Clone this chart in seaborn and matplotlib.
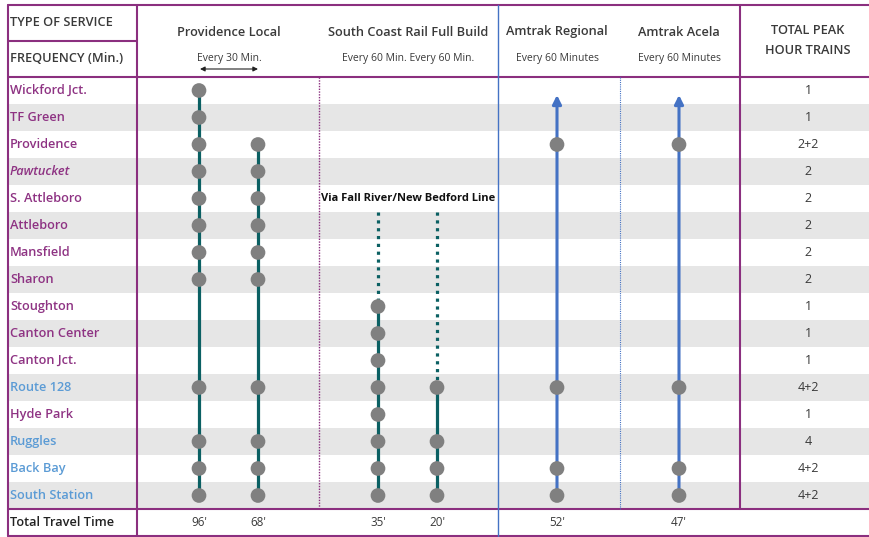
import numpy as np
import pandas as pd
import matplotlib
matplotlib.use("Agg")
import matplotlib.pyplot as plt
import seaborn as sns

# ---------------- data ----------------
stations = ["Wickford Jct.", "TF Green", "Providence", "Pawtucket", "S. Attleboro",
            "Attleboro", "Mansfield", "Sharon", "Stoughton", "Canton Center",
            "Canton Jct.", "Route 128", "Hyde Park", "Ruggles", "Back Bay", "South Station"]
blue_stations = ["Route 128", "Ruggles", "Back Bay", "South Station"]
italic_stations = ["Pawtucket"]
peak_trains = ["1", "1", "2+2", "2", "2", "2", "2", "2", "1", "1", "1",
               "4+2", "1", "4", "4+2", "4+2"]

services = ["Providence Local", "South Coast Rail Full Build", "Amtrak Regional", "Amtrak Acela"]
frequencies = ["Every 30 Min.", "Every 60 Min. Every 60 Min.", "Every 60 Minutes", "Every 60 Minutes"]

lines = ["PVD Local A", "PVD Local B", "SCR A", "SCR B", "Amtrak Regional", "Amtrak Acela"]
travel_times = ["96'", "68'", "35'", "20'", "52'", "47'"]
pvd_a_stops = ["Wickford Jct.", "TF Green", "Providence", "Pawtucket", "S. Attleboro", "Attleboro",
               "Mansfield", "Sharon", "Route 128", "Ruggles", "Back Bay", "South Station"]
pvd_b_stops = ["Providence", "Pawtucket", "S. Attleboro", "Attleboro", "Mansfield", "Sharon",
               "Route 128", "Ruggles", "Back Bay", "South Station"]
scr_a_stops = ["Stoughton", "Canton Center", "Canton Jct.", "Route 128", "Hyde Park",
               "Ruggles", "Back Bay", "South Station"]
scr_b_stops = ["Route 128", "Ruggles", "Back Bay", "South Station"]
amtrak_reg_stops = ["Providence", "Route 128", "Back Bay", "South Station"]
amtrak_acela_stops = ["Providence", "Route 128", "Back Bay", "South Station"]
line_stops = [pvd_a_stops, pvd_b_stops, scr_a_stops, scr_b_stops, amtrak_reg_stops, amtrak_acela_stops]
line_start = ["Wickford Jct.", "Providence", "Stoughton", "Route 128", None, None]  # None -> arrow north
branch_label = "Via Fall River/New Bedford Line"
branch_from = "Attleboro"  # dotted branch feeder starts at this row

# ---------------- layout / style ----------------
W, H = 869, 537
ROW0_PX, ROW_PX = 90.5, 27.0
def Y(px):
    return (px - ROW0_PX) / ROW_PX

line_x = [199, 258, 378, 437, 557, 679]
service_x = [229, 408, 557, 679]
total_x = 808
PURPLE = "#8B2F7F"
PTEXT = "#8E3383"
BLUE_TXT = "#5B9BD5"
TEAL = "#0B6063"
ABLUE = "#4472C4"
DOT = "#808080"
DARK = "#3A3A3A"
GRAY_BAND = "#E6E6E6"
HFS = 9.2   # header / label font size

sns.set_style("white")
plt.rcParams["font.family"] = ["Open Sans", "DejaVu Sans"]

fig = plt.figure(figsize=(W / 100, H / 100), dpi=100)
ax = fig.add_axes([0, 0, 1, 1])
ax.axis("off")

# alternating row bands
for i, st in enumerate(stations):
    if i % 2 == 1:
        ax.add_patch(plt.Rectangle((9, i - 0.5), W - 9, 1.0, color=GRAY_BAND, lw=0, zorder=0))

# grid / borders
bw = 1.5
ax.plot([8, W], [Y(5), Y(5)], color=PURPLE, lw=bw, zorder=2)
ax.plot([8, W], [Y(77), Y(77)], color=PURPLE, lw=bw, zorder=2)
ax.plot([8, W], [Y(509), Y(509)], color=PURPLE, lw=bw, zorder=2)
ax.plot([8, W], [Y(536), Y(536)], color=PURPLE, lw=bw, zorder=2)
ax.plot([8, 137], [Y(41), Y(41)], color=PURPLE, lw=bw, zorder=2)
ax.plot([8, 8], [Y(5), Y(536)], color=PURPLE, lw=bw, zorder=2)
ax.plot([137, 137], [Y(5), Y(536)], color=PURPLE, lw=bw, zorder=2)
ax.plot([740, 740], [Y(5), Y(509)], color=PURPLE, lw=bw, zorder=2)
ax.plot([498, 498], [Y(5), Y(536)], color=ABLUE, lw=1.0, zorder=2)
ax.plot([319, 319], [Y(77), Y(509)], color=PURPLE, lw=1.0, ls=(0, (1, 1)), zorder=2)
ax.plot([620, 620], [Y(77), Y(509)], color=ABLUE, lw=0.8, ls=(0, (1, 1)), zorder=2)

# route lines
row_of = {s: i for i, s in enumerate(stations)}
branch_top = row_of[branch_from] - 0.5
for k, name in enumerate(lines):
    x = line_x[k]
    last = row_of[line_stops[k][-1]]
    if line_start[k] is None:
        ax.annotate("", xy=(x, Y(95)), xytext=(x, last),
                    arrowprops=dict(arrowstyle="-|>", color=ABLUE, lw=2.2,
                                    mutation_scale=13, shrinkA=0, shrinkB=0), zorder=3)
    else:
        first = row_of[line_start[k]]
        seg = pd.DataFrame({"x": [x, x], "row": [first, last]})
        sns.lineplot(data=seg, x="x", y="row", sort=False, estimator=None,
                     color=TEAL, lw=2.3, ax=ax, zorder=3)
        if name.startswith("SCR"):
            dseg = pd.DataFrame({"x": [x, x], "row": [branch_top, first]})
            sns.lineplot(data=dseg, x="x", y="row", sort=False, estimator=None,
                         color=TEAL, lw=2.3, ls=(0, (1.0, 1.45)), ax=ax, zorder=3)

# stop dots
recs = []
for k, name in enumerate(lines):
    for s in line_stops[k]:
        recs.append({"line": name, "x": line_x[k], "row": row_of[s]})
stops_df = pd.DataFrame(recs)
sns.scatterplot(data=stops_df, x="x", y="row", s=112, color=DOT, edgecolor="none",
                legend=False, ax=ax, zorder=5)

# branch label
ax.text(408, row_of["S. Attleboro"], branch_label, ha="center", va="center",
        fontsize=8.0, fontweight="bold", color="#111111", zorder=6)

# header texts
ax.text(10, Y(23), "TYPE OF SERVICE", ha="left", va="center", fontsize=HFS,
        fontweight="semibold", color=DARK)
ax.text(10, Y(59), "FREQUENCY (Min.)", ha="left", va="center", fontsize=HFS,
        fontweight="semibold", color=DARK)
for sx, sv, fq in zip(service_x, services, frequencies):
    ax.text(sx, Y(32), sv, ha="center", va="center", fontsize=HFS,
            fontweight="semibold", color=DARK)
    ax.text(sx, Y(59), fq, ha="center", va="center", fontsize=7.5, color=DARK)
ax.annotate("", xy=(200, Y(69)), xytext=(258, Y(69)),
            arrowprops=dict(arrowstyle="<|-|>", color="#222222", lw=0.8,
                            mutation_scale=7, shrinkA=0, shrinkB=0))
ax.text(total_x, Y(31), "TOTAL PEAK", ha="center", va="center", fontsize=HFS,
        fontweight="semibold", color=DARK)
ax.text(total_x, Y(50), "HOUR TRAINS", ha="center", va="center", fontsize=HFS,
        fontweight="semibold", color=DARK)

# station names & totals
for i, st in enumerate(stations):
    col = BLUE_TXT if st in blue_stations else PTEXT
    style = "italic" if st in italic_stations else "normal"
    ax.text(10, i, st, ha="left", va="center", fontsize=HFS, fontweight="semibold",
            color=col, fontstyle=style, zorder=6)
    ax.text(total_x, i, peak_trains[i].replace("+", " + ").replace(" + ", "+"),
            ha="center", va="center", fontsize=9.0, color=DARK, zorder=6)

# total travel time row
ax.text(10, Y(523), "Total Travel Time", ha="left", va="center", fontsize=HFS,
        fontweight="semibold", color="#222222")
for x, tt in zip(line_x, travel_times):
    ax.text(x, Y(523), tt, ha="center", va="center", fontsize=8.4, color=DARK)

ax.set_xlim(0, W)
ax.set_ylim(Y(H), Y(0))
ax.set_xlabel("")
ax.set_ylabel("")
fig.savefig("out.png", dpi=100)
